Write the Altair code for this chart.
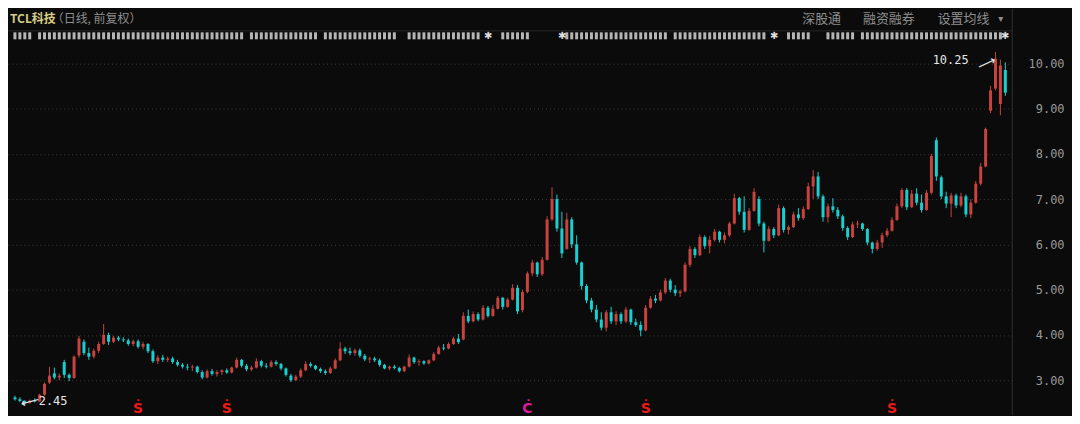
import altair as alt
import pandas as pd

# ---------------- data ----------------
OPEN = [2.62, 2.58, 2.54, 2.50, 2.55, 2.53, 2.68, 2.95, 3.15, 3.06,
        3.40, 3.12, 3.05, 3.55, 3.85, 3.60, 3.52, 3.65, 3.80, 4.00,
        3.85, 3.94, 3.90, 3.88, 3.80, 3.86, 3.74, 3.80, 3.64, 3.42,
        3.50, 3.45, 3.48, 3.40, 3.34, 3.30, 3.28, 3.30, 3.18, 3.06,
        3.20, 3.14, 3.18, 3.22, 3.17, 3.28, 3.45, 3.32, 3.24, 3.28,
        3.42, 3.32, 3.30, 3.40, 3.36, 3.26, 3.10, 3.00, 3.08, 3.22,
        3.36, 3.32, 3.25, 3.20, 3.16, 3.26, 3.44, 3.70, 3.64, 3.60,
        3.66, 3.54, 3.46, 3.48, 3.44, 3.34, 3.26, 3.30, 3.27, 3.20,
        3.30, 3.50, 3.40, 3.42, 3.37, 3.44, 3.58, 3.72, 3.70, 3.80,
        3.92, 3.90, 4.42, 4.30, 4.46, 4.34, 4.60, 4.42, 4.58, 4.82,
        4.62, 4.78, 5.04, 4.55, 4.95, 5.36, 5.60, 5.34, 5.66, 6.55,
        7.00, 6.35, 5.90, 6.55, 6.00, 5.60, 5.08, 4.76, 4.56, 4.34,
        4.16, 4.50, 4.30, 4.46, 4.30, 4.56, 4.28, 4.22, 4.10, 4.60,
        4.80, 4.76, 4.94, 5.20, 5.00, 4.92, 4.96, 5.55, 5.90, 5.76,
        6.16, 5.96, 6.10, 6.28, 6.10, 6.20, 6.46, 7.02, 6.72, 6.32,
        6.74, 7.00, 6.46, 6.08, 6.34, 6.20, 6.80, 6.32, 6.38, 6.66,
        6.58, 6.78, 7.28, 7.50, 7.06, 6.60, 6.84, 6.76, 6.62, 6.36,
        6.16, 6.44, 6.46, 6.34, 6.04, 5.90, 6.04, 6.20, 6.30, 6.54,
        6.84, 7.20, 6.82, 7.12, 6.92, 6.76, 7.14, 8.30, 7.48, 7.06,
        6.90, 7.08, 6.86, 7.06, 6.66, 6.92, 7.34, 7.72, 8.95, 9.44,
        9.10, 9.85]
HIGH = [2.66, 2.62, 2.56, 2.57, 2.60, 2.70, 2.95, 3.30, 3.28, 3.15,
        3.45, 3.15, 3.55, 3.98, 3.90, 3.72, 3.70, 3.85, 4.24, 4.05,
        3.98, 3.98, 3.95, 3.92, 3.90, 3.90, 3.85, 3.82, 3.68, 3.55,
        3.56, 3.52, 3.52, 3.45, 3.38, 3.36, 3.34, 3.32, 3.22, 3.24,
        3.25, 3.22, 3.24, 3.26, 3.30, 3.50, 3.47, 3.36, 3.32, 3.48,
        3.45, 3.38, 3.44, 3.44, 3.38, 3.28, 3.14, 3.12, 3.26, 3.42,
        3.40, 3.34, 3.28, 3.24, 3.30, 3.48, 3.84, 3.74, 3.72, 3.70,
        3.70, 3.58, 3.52, 3.52, 3.48, 3.36, 3.32, 3.34, 3.30, 3.32,
        3.57, 3.52, 3.46, 3.44, 3.46, 3.62, 3.76, 3.80, 3.84, 3.96,
        4.02, 4.50, 4.56, 4.52, 4.50, 4.66, 4.64, 4.66, 4.86, 4.84,
        4.82, 5.12, 5.10, 5.00, 5.40, 5.66, 5.62, 5.72, 6.62, 7.26,
        7.10, 6.72, 6.70, 6.60, 6.20, 5.62, 5.12, 4.82, 4.66, 4.50,
        4.55, 4.62, 4.52, 4.50, 4.62, 4.58, 4.36, 4.30, 4.66, 4.86,
        4.88, 5.00, 5.26, 5.24, 5.10, 5.00, 5.60, 5.96, 5.94, 6.22,
        6.20, 6.18, 6.34, 6.30, 6.26, 6.50, 7.12, 7.05, 7.06, 6.80,
        7.24, 7.06, 6.50, 6.40, 6.38, 6.88, 6.84, 6.42, 6.72, 6.80,
        6.84, 7.36, 7.64, 7.60, 7.10, 6.90, 7.02, 6.82, 6.66, 6.40,
        6.50, 6.52, 6.48, 6.36, 6.06, 6.10, 6.26, 6.36, 6.60, 6.90,
        7.24, 7.24, 7.20, 7.24, 7.10, 7.20, 8.00, 8.36, 7.52, 7.16,
        7.14, 7.12, 7.14, 7.10, 7.00, 7.40, 7.80, 8.58, 9.50, 10.25,
        10.08, 10.02]
LOW = [2.55, 2.52, 2.45, 2.48, 2.51, 2.52, 2.66, 2.92, 3.02, 3.00,
       3.05, 2.98, 3.03, 3.50, 3.55, 3.45, 3.48, 3.60, 3.78, 3.78,
       3.82, 3.86, 3.84, 3.76, 3.75, 3.70, 3.68, 3.60, 3.38, 3.36,
       3.40, 3.40, 3.36, 3.30, 3.26, 3.22, 3.20, 3.15, 3.02, 3.04,
       3.10, 3.08, 3.12, 3.14, 3.15, 3.26, 3.28, 3.20, 3.20, 3.26,
       3.28, 3.26, 3.28, 3.32, 3.22, 3.08, 2.96, 2.98, 3.05, 3.20,
       3.28, 3.22, 3.16, 3.12, 3.14, 3.24, 3.42, 3.58, 3.55, 3.54,
       3.50, 3.42, 3.38, 3.40, 3.30, 3.24, 3.22, 3.24, 3.17, 3.18,
       3.28, 3.36, 3.32, 3.34, 3.35, 3.42, 3.56, 3.66, 3.68, 3.78,
       3.80, 3.88, 4.26, 4.28, 4.30, 4.32, 4.38, 4.40, 4.56, 4.56,
       4.60, 4.76, 4.46, 4.50, 4.92, 5.30, 5.28, 5.30, 5.64, 6.52,
       6.28, 5.70, 5.88, 5.92, 5.55, 5.00, 4.70, 4.50, 4.28, 4.10,
       4.08, 4.24, 4.22, 4.24, 4.26, 4.22, 4.18, 3.97, 4.08, 4.58,
       4.70, 4.74, 4.90, 4.94, 4.86, 4.84, 4.94, 5.50, 5.70, 5.74,
       5.90, 5.80, 6.06, 6.04, 6.02, 6.16, 6.44, 6.65, 6.26, 6.30,
       6.72, 6.40, 5.82, 6.06, 6.14, 6.18, 6.26, 6.22, 6.36, 6.52,
       6.54, 6.76, 7.00, 7.00, 6.50, 6.48, 6.70, 6.56, 6.30, 6.10,
       6.14, 6.36, 6.30, 5.98, 5.80, 5.86, 5.92, 6.16, 6.28, 6.52,
       6.80, 6.76, 6.80, 6.86, 6.70, 6.74, 7.10, 7.40, 7.00, 6.80,
       6.60, 6.80, 6.82, 6.60, 6.58, 6.90, 7.30, 7.70, 8.90, 9.40,
       8.85, 9.28]
CLOSE = [2.58, 2.54, 2.50, 2.55, 2.53, 2.68, 2.92, 3.10, 3.06, 3.10,
         3.12, 3.05, 3.52, 3.92, 3.60, 3.52, 3.65, 3.80, 4.00, 3.85,
         3.94, 3.90, 3.88, 3.80, 3.86, 3.74, 3.80, 3.64, 3.42, 3.50,
         3.45, 3.48, 3.40, 3.34, 3.30, 3.28, 3.30, 3.18, 3.06, 3.20,
         3.14, 3.18, 3.22, 3.17, 3.28, 3.45, 3.32, 3.24, 3.28, 3.42,
         3.32, 3.30, 3.40, 3.36, 3.26, 3.12, 3.00, 3.08, 3.22, 3.36,
         3.32, 3.25, 3.20, 3.16, 3.26, 3.44, 3.70, 3.64, 3.60, 3.66,
         3.54, 3.46, 3.48, 3.44, 3.34, 3.26, 3.30, 3.27, 3.20, 3.30,
         3.50, 3.40, 3.42, 3.37, 3.44, 3.58, 3.72, 3.70, 3.80, 3.92,
         3.84, 4.42, 4.30, 4.46, 4.34, 4.60, 4.42, 4.58, 4.82, 4.62,
         4.78, 5.04, 4.52, 4.95, 5.36, 5.60, 5.34, 5.66, 6.55, 7.00,
         6.35, 5.80, 6.55, 6.00, 5.60, 5.08, 4.76, 4.56, 4.34, 4.16,
         4.50, 4.30, 4.46, 4.30, 4.56, 4.28, 4.22, 4.10, 4.60, 4.80,
         4.76, 4.94, 5.20, 5.00, 4.92, 4.96, 5.55, 5.90, 5.76, 6.16,
         5.96, 6.10, 6.28, 6.10, 6.20, 6.46, 7.02, 6.72, 6.32, 6.74,
         7.16, 6.46, 6.08, 6.34, 6.20, 6.80, 6.32, 6.38, 6.66, 6.58,
         6.78, 7.28, 7.50, 7.06, 6.60, 6.84, 6.76, 6.62, 6.36, 6.16,
         6.44, 6.46, 6.34, 6.04, 5.90, 6.04, 6.20, 6.30, 6.54, 6.84,
         7.20, 6.82, 7.12, 6.92, 6.76, 7.14, 7.95, 7.50, 7.06, 6.90,
         7.08, 6.86, 7.06, 6.66, 6.92, 7.34, 7.72, 8.55, 9.40, 10.10,
         9.95, 9.35]

Y_TICKS = [3, 4, 5, 6, 7, 8, 9, 10]
# event-marker row on top: runs of trading-day indices carrying a marker
EVENT_RUNS = [(0, 3), (5, 9), (10, 15), (16, 21), (22, 25), (26, 32), (33, 46),
              (48, 61), (63, 66), (67, 77), (80, 94), (99, 104), (112, 132),
              (134, 152), (157, 161), (165, 170), (172, 182), (183, 187),
              (188, 190), (191, 195), (196, 200)]
EVENT_STARS = [96, 111, 154, 201]
SIGNAL_IDX = [25, 43, 104, 128, 178]
SIGNAL_TXT = ["Ṡ", "Ṡ", "Ċ", "Ṡ", "Ṡ"]
SIGNAL_COL = ["#f01818", "#f01818", "#e0189c", "#f01818", "#f01818"]
HIGH_IDX, HIGH_VAL = 199, 10.25
LOW_IDX, LOW_VAL = 2, 2.45

# ---------------- styling ----------------
BG = "#0b0b0b"
RED = "#c8433e"
CYAN = "#18d0d0"
GRID = "#3a3a3a"
GRAY = "#8e8e8e"
CJK = "Noto Sans CJK SC"
MONO = "DejaVu Sans Mono"
W, H = 1009, 408

n = len(OPEN)
df = pd.DataFrame({"i": list(range(n)), "o": OPEN, "h": HIGH, "l": LOW, "c": CLOSE})
df["dir"] = ["up" if c >= o else "down" for o, c in zip(OPEN, CLOSE)]

xs = alt.Scale(domain=[-0.4, n - 0.6], nice=False, zero=False)
ys = alt.Scale(domain=[2.231, 11.198], nice=False, zero=False)
col = alt.Color("dir:N", scale=alt.Scale(domain=["up", "down"], range=[RED, CYAN]), legend=None)

yaxis = alt.Axis(orient="right", values=Y_TICKS, format=".2f", grid=True, gridDash=[1, 3],
                 gridColor=GRID, gridWidth=1, domain=False, ticks=False, tickSize=0,
                 labelPadding=52, labelAlign="right", labelColor="#9a9a9a", labelFont=MONO,
                 labelFontSize=12, title=None)

base = alt.Chart(df)
wick = base.mark_rule(strokeWidth=1).encode(
    x=alt.X("i:Q", scale=xs, axis=None),
    y=alt.Y("l:Q", scale=ys, axis=yaxis),
    y2="h:Q",
    color=col,
)
body = base.mark_bar(size=3).encode(
    x=alt.X("i:Q", scale=xs, axis=None),
    y=alt.Y("o:Q", scale=ys),
    y2="c:Q",
    color=col,
)

# event markers row
ev_idx = [k for a, b in EVENT_RUNS for k in range(a, b + 1)]
events = alt.Chart(pd.DataFrame({"i": ev_idx})).mark_tick(
    thickness=3, size=7, color="#d4d4d4", opacity=0.85).encode(
    x=alt.X("i:Q", scale=xs, axis=None), y=alt.value(27))
stars = alt.Chart(pd.DataFrame({"i": EVENT_STARS})).mark_text(
    text="✱", fontSize=10, color="#dcdcdc", baseline="middle").encode(
    x=alt.X("i:Q", scale=xs, axis=None), y=alt.value(27))

signals = alt.Chart(pd.DataFrame({"i": SIGNAL_IDX, "t": SIGNAL_TXT, "col": SIGNAL_COL})).mark_text(
    fontSize=14, fontWeight="bold", baseline="middle", font="DejaVu Sans").encode(
    x=alt.X("i:Q", scale=xs, axis=None), y=alt.value(402), text="t:N",
    color=alt.Color("col:N", scale=None))

# high / low annotations
hi_df = pd.DataFrame({"i": [HIGH_IDX], "v": [HIGH_VAL], "t": [f"{HIGH_VAL:.2f}"]})
lo_df = pd.DataFrame({"i": [LOW_IDX], "v": [LOW_VAL], "t": [f"{LOW_VAL:.2f}"]})
hi_txt = alt.Chart(hi_df).mark_text(align="right", baseline="middle", dx=-27, dy=8,
                                   fontSize=12, font=MONO, color="#e6e6e6").encode(
    x=alt.X("i:Q", scale=xs, axis=None), y=alt.Y("v:Q", scale=ys), text="t:N")
hi_arr = alt.Chart(hi_df).mark_text(text="⟶", align="center", baseline="middle", dx=-13, dy=7,
                                   angle=335, fontSize=13, color="#e6e6e6").encode(
    x=alt.X("i:Q", scale=xs, axis=None), y=alt.Y("v:Q", scale=ys))
lo_txt = alt.Chart(lo_df).mark_text(align="left", baseline="middle", dx=14, dy=-4,
                                   fontSize=12, font=MONO, color="#e6e6e6").encode(
    x=alt.X("i:Q", scale=xs, axis=None), y=alt.Y("v:Q", scale=ys), text="t:N")
lo_arr = alt.Chart(lo_df).mark_text(text="⟵", align="center", baseline="middle", dx=6, dy=-2,
                                   angle=345, fontSize=13, color="#e6e6e6").encode(
    x=alt.X("i:Q", scale=xs, axis=None), y=alt.Y("v:Q", scale=ys))


def label(text, x, y, color, size=12, align="left", font=CJK, weight="normal"):
    return alt.Chart(pd.DataFrame({"t": [text]})).mark_text(
        align=align, baseline="middle", color=color, fontSize=size, font=font,
        fontWeight=weight).encode(x=alt.value(x), y=alt.value(y), text="t:N")


HY = 10
header = [
    label("TCL科技", 2, HY, "#d8ce86", size=12, weight="bold"),
    label("（日线, 前复权）", 44, HY, GRAY, size=12),
    label("深股通", 798, HY, GRAY, size=13),
    label("融资融券", 859, HY, GRAY, size=13),
    label("设置均线", 934, HY, GRAY, size=13),
    label("▾", 995, HY, GRAY, size=10, font="DejaVu Sans"),
]

frame_df = pd.DataFrame({"k": [0]})
hline = alt.Chart(frame_df).mark_rule(color="#262626", strokeWidth=1).encode(
    x=alt.value(0), x2=alt.value(W), y=alt.value(22))
vline = alt.Chart(frame_df).mark_rule(color="#303030", strokeWidth=1).encode(
    x=alt.value(W), y=alt.value(0), y2=alt.value(H))

chart = alt.layer(
    wick, body, events, stars, signals, hi_txt, hi_arr, lo_txt, lo_arr, hline, vline, *header
).properties(
    width=W, height=H, background=BG,
    autosize=alt.AutoSizeParams(type="none"),
    padding={"left": 0, "top": 0, "right": 60, "bottom": 0},
).configure_view(stroke=None)

chart.save("out.html", embed_options={"renderer": "svg", "actions": False})
